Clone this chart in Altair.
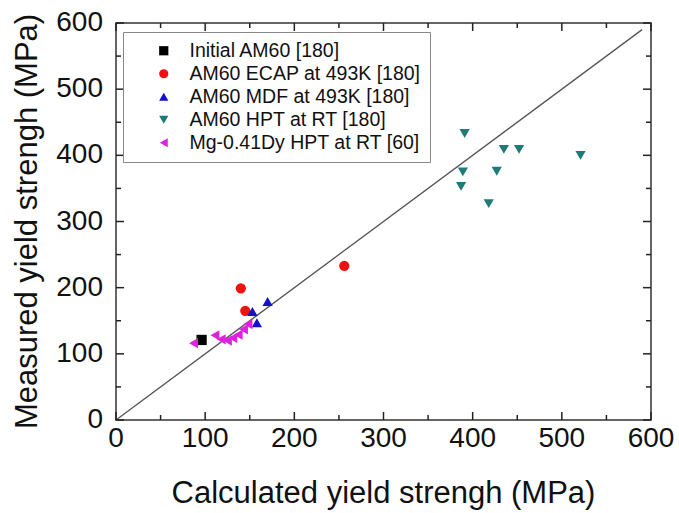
import altair as alt
import pandas as pd

FONT = "Liberation Sans"

x_title = "Calculated yield strengh (MPa)"
y_title = "Measured yield strengh (MPa)"

series_names = [
    "Initial AM60 [180]",
    "AM60 ECAP at 493K [180]",
    "AM60 MDF at 493K [180]",
    "AM60 HPT at RT [180]",
    "Mg-0.41Dy HPT at RT [60]",
]
series_colors = ["#000000", "#ee1111", "#1212cc", "#1e7b78", "#e020e0"]
series_shapes = ["square", "circle", "triangle-up", "triangle-down", "triangle-left"]

initial_x = [96]
initial_y = [121]
ecap_x = [140, 145, 256]
ecap_y = [199, 165, 233]
mdf_x = [170, 153, 158]
mdf_y = [179, 164, 147]
hpt_x = [391, 435, 452, 521, 389, 427, 387, 418]
hpt_y = [433, 409, 409, 400, 375, 376, 353, 327]
dy_x = [87, 111, 118, 125, 131, 137, 143, 148]
dy_y = [116, 128, 122, 120, 124, 129, 137, 145]

line_x = [0, 590]
line_y = [0, 590]

major_ticks = [0, 100, 200, 300, 400, 500, 600]
minor_ticks = [50, 150, 250, 350, 450, 550]

rows = []
for name, xs, ys in zip(series_names,
                        [initial_x, ecap_x, mdf_x, hpt_x, dy_x],
                        [initial_y, ecap_y, mdf_y, hpt_y, dy_y]):
    for a, b in zip(xs, ys):
        rows.append({"series": name, "calc": a, "meas": b})
df = pd.DataFrame(rows)
line_df = pd.DataFrame({"x": line_x, "y": line_y})
tick_lab_df = pd.DataFrame({"v": major_ticks})

W, H = 535, 397
DMAX = 600
xscale = alt.Scale(domain=[0, DMAX], nice=False, zero=False)
yscale = alt.Scale(domain=[0, DMAX], nice=False, zero=False)
TICK = "#222222"
TXT = "#111111"

base_line = alt.Chart(line_df).mark_line(color="#555555", strokeWidth=1.3).encode(
    x=alt.X("x:Q", scale=xscale, axis=None),
    y=alt.Y("y:Q", scale=yscale, axis=None),
)

# inward tick marks as short segments through the scales
seg_rows = []
sid = 0
for vals, length_px in ((major_ticks, 8), (minor_ticks, 5)):
    lx = DMAX * length_px / W
    ly = DMAX * length_px / H
    for v in vals:
        for (x1, y1, x2, y2) in ((v, 0, v, ly), (v, DMAX, v, DMAX - ly),
                                 (0, v, lx, v), (DMAX, v, DMAX - lx, v)):
            seg_rows.append({"seg": sid, "ord": 0, "tx": x1, "ty": y1})
            seg_rows.append({"seg": sid, "ord": 1, "tx": x2, "ty": y2})
            sid += 1
ticks_df = pd.DataFrame(seg_rows)

ticks = alt.Chart(ticks_df).mark_line(color=TICK, strokeWidth=1.5, opacity=1).encode(
    x=alt.X("tx:Q", scale=xscale, axis=None),
    y=alt.Y("ty:Q", scale=yscale, axis=None),
    detail=alt.Detail("seg:N"),
    order=alt.Order("ord:Q"),
)

# tick labels
xlabels = alt.Chart(tick_lab_df).mark_text(
    baseline="top", align="center", dy=5, fontSize=28, font=FONT, color=TXT
).encode(
    x=alt.X("v:Q", scale=xscale, axis=None),
    y=alt.YDatum(0, scale=yscale, axis=None),
    text=alt.Text("v:Q"),
)
ylabels = alt.Chart(tick_lab_df).mark_text(
    baseline="middle", align="right", dx=-13, fontSize=28, font=FONT, color=TXT
).encode(
    y=alt.Y("v:Q", scale=yscale, axis=None),
    x=alt.XDatum(0, scale=xscale, axis=None),
    text=alt.Text("v:Q"),
)

# axis titles
xtitle = alt.Chart(pd.DataFrame({"t": [x_title]})).mark_text(
    baseline="alphabetic", align="center", fontSize=31, font=FONT, color=TXT
).encode(x=alt.value(W / 2), y=alt.value(H + 83), text="t:N")
ytitle = alt.Chart(pd.DataFrame({"t": [y_title]})).mark_text(
    baseline="alphabetic", align="center", angle=270, fontSize=31, font=FONT, color=TXT
).encode(x=alt.value(-79), y=alt.value(H / 2), text="t:N")

points = alt.Chart(df).mark_point(filled=True, opacity=1, size=105).encode(
    x=alt.X("calc:Q", scale=xscale, axis=None),
    y=alt.Y("meas:Q", scale=yscale, axis=None),
    color=alt.Color("series:N", sort=series_names,
                    scale=alt.Scale(domain=series_names, range=series_colors),
                    legend=alt.Legend(title=None, orient="none", legendX=7, legendY=9,
                                      labelFontSize=19.5, labelFont=FONT,
                                      labelColor=TXT, symbolSize=85,
                                      symbolOpacity=1, symbolStrokeWidth=0,
                                      rowPadding=2, padding=9,
                                      symbolOffset=22, labelOffset=16,
                                      strokeColor="#888888", fillColor="white",
                                      labelLimit=400)),
    shape=alt.Shape("series:N", sort=series_names,
                    scale=alt.Scale(domain=series_names, range=series_shapes),
                    legend=None),
)

chart = alt.layer(base_line, points, xlabels, ylabels, xtitle, ytitle, ticks).properties(
    width=W, height=H,
    autosize=alt.AutoSizeParams(type="none"),
    padding={"left": 116, "top": 23, "right": 28, "bottom": 93},
    background="white",
).configure_view(stroke="#333333", strokeWidth=1.5)

chart.save("out.html", embed_options={"renderer": "svg", "actions": False})
